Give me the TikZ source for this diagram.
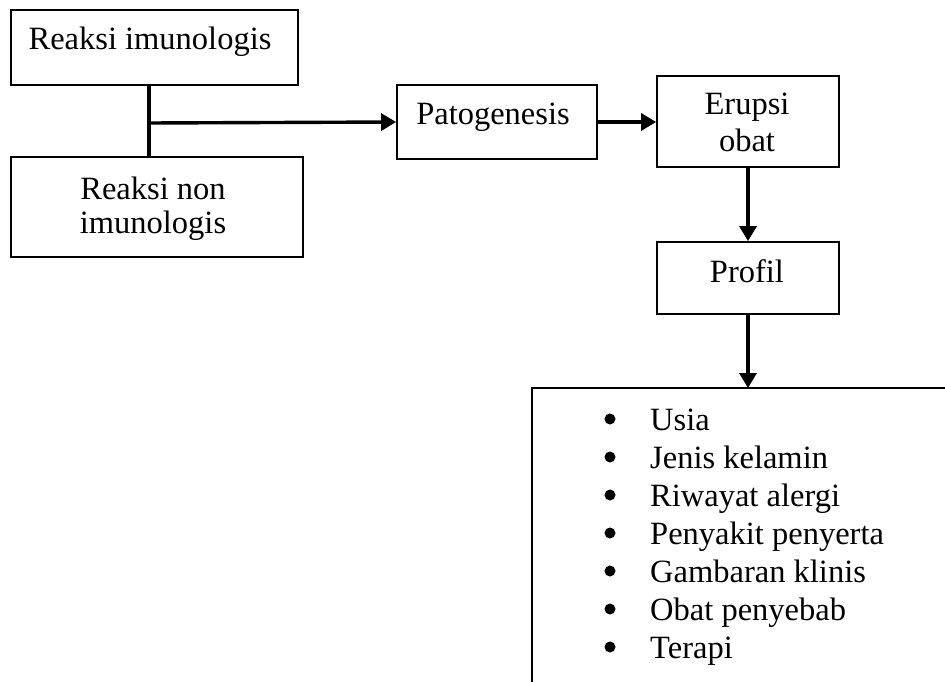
\documentclass[tikz,border=0pt]{standalone}
\usepackage{fontspec}
\setmainfont{Liberation Serif}
\usetikzlibrary{arrows.meta}
\begin{document}
\begin{tikzpicture}[x=1pt,y=-1pt,
  box/.style={draw, line width=1.8pt, inner sep=0pt},
  txt/.style={inner sep=0pt, anchor=base, font=\fontsize{32.5}{38}\selectfont},
  bul/.style={circle, fill, minimum size=11pt, inner sep=0pt},
  conn/.style={line width=3.6pt},
  arr/.style={line width=3.4pt, -{Triangle[length=15pt,width=17pt]}}]
\useasboundingbox (0,0) rectangle (945,682);
% boxes
\node[box, minimum width=287pt, minimum height=75pt] (r1) at (154.5,47.5) {};
\node[box, minimum width=292pt, minimum height=100pt] (r2) at (157,207) {};
\node[box, minimum width=200pt, minimum height=74pt] (pat) at (497,122) {};
\node[box, minimum width=182pt, minimum height=91pt] (eru) at (748,121.5) {};
\node[box, minimum width=182pt, minimum height=72pt] (prof) at (748,278) {};
% texts
\node[txt] (t1) at (150,50) {Reaksi imunologis};
\node[txt] (t2a) at (153,199) {Reaksi non};
\node[txt] (t2b) at (153,233) {imunologis};
\node[txt] (t3) at (493,125) {Patogenesis};
\node[txt] (t4a) at (747,115) {Erupsi};
\node[txt] (t4b) at (747,151) {obat};
\node[txt] (t5) at (747,282) {Profil};
% list box (open at right and bottom)
\coordinate (lb) at (532,388);
\coordinate (listtop) at (748,388);
\draw[line width=1.8pt] (945,388) -- (lb) -- (532,682);
\foreach \i/\s in {0/Usia,1/Jenis kelamin,2/Riwayat alergi,3/Penyakit penyerta,4/Gambaran klinis,5/Obat penyebab,6/Terapi}{
  \node[bul] (b\i) at (610,419+38*\i) {};
  \node[txt, anchor=base west] (l\i) at (650,430+38*\i) {\s};
}
% connectors
\coordinate (j) at (149,123);
\draw[conn] (r1.south -| j) -- (r2.north -| j);
\draw[arr] (j) -- (pat.west);
\draw[arr] (pat.east) -- (eru.west |- pat.east);
\draw[arr] (eru.south) -- (prof.north);
\draw[arr] (prof.south) -- (listtop);
\end{tikzpicture}
\end{document}
